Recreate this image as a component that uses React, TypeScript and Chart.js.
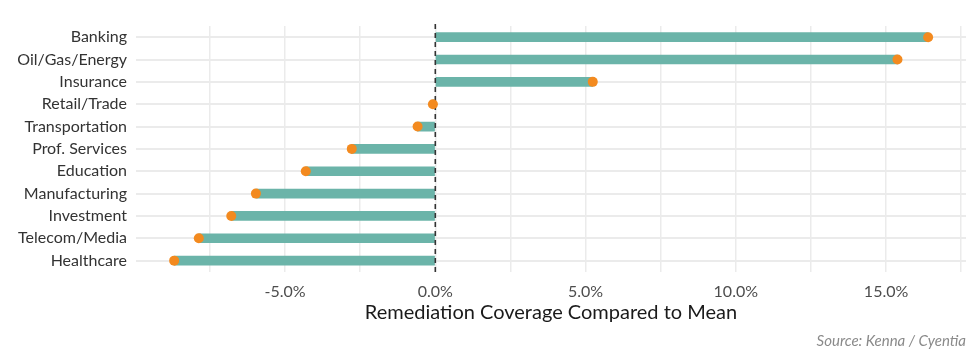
import React, { useEffect, useRef } from "react";
import { Chart, registerables } from "chart.js";

Chart.register(...registerables);

const categories = [
  "Banking",
  "Oil/Gas/Energy",
  "Insurance",
  "Retail/Trade",
  "Transportation",
  "Prof. Services",
  "Education",
  "Manufacturing",
  "Investment",
  "Telecom/Media",
  "Healthcare",
];
const coverageDiff = [16.4, 15.38, 5.24, -0.08, -0.59, -2.78, -4.31, -5.97, -6.79, -7.87, -8.69];
const gridValues = [-7.5, -5, -2.5, 0, 2.5, 5, 7.5, 10, 12.5, 15, 17.5];
const labeledTicks = [-5, 0, 5, 10, 15];
const xMin = -9.96;
const xMax = 17.66;

const FONT = "Lato, 'Noto Sans', sans-serif";

const zeroLine = {
  id: "zeroLine",
  afterDatasetDraw(chart: any, args: any) {
    if (args.meta.type !== "bar") return;
    const x = chart.scales.x.getPixelForValue(0);
    const { top, bottom } = chart.chartArea;
    const ctx = chart.ctx;
    ctx.save();
    ctx.strokeStyle = "#333333";
    ctx.lineWidth = 1.6;
    ctx.setLineDash([5, 4]);
    ctx.beginPath();
    ctx.moveTo(x, top - 2);
    ctx.lineTo(x, bottom + 3);
    ctx.stroke();
    ctx.restore();
  },
};

export default function App() {
  const ref = useRef<HTMLCanvasElement | null>(null);
  useEffect(() => {
    if (!ref.current) return;
    const chart = new Chart(ref.current, {
      type: "bar",
      data: {
        labels: categories,
        datasets: [
          {
            type: "line",
            data: coverageDiff,
            showLine: false,
            pointRadius: 5,
            pointHoverRadius: 5,
            pointBackgroundColor: "#f38a1f",
            pointBorderColor: "#f38a1f",
            pointBorderWidth: 0,
            order: 1,
          } as any,
          {
            type: "bar",
            data: coverageDiff,
            backgroundColor: "#6bb4a9",
            barThickness: 9,
            order: 2,
          },
        ],
      },
      options: {
        indexAxis: "y",
        animation: false,
        responsive: false,
        maintainAspectRatio: false,
        layout: { padding: { top: 26, left: 0, right: 9, bottom: 8 } },
        plugins: {
          legend: { display: false },
          tooltip: { enabled: false },
          subtitle: {
            display: true,
            text: "Source: Kenna / Cyentia",
            position: "bottom",
            align: "end",
            color: "#8a8a8a",
            font: { family: FONT, size: 15, style: "italic" },
            padding: { top: 0, bottom: 0 },
          },
        },
        scales: {
          x: {
            type: "linear",
            min: xMin,
            max: xMax,
            afterBuildTicks: (scale: any) => {
              scale.ticks = gridValues.map((v) => ({ value: v }));
            },
            grid: { color: "#ebebeb", lineWidth: 1.5, drawTicks: false },
            border: { display: false },
            ticks: {
              padding: 10,
              autoSkip: false,
              maxRotation: 0,
              color: "#4d4d4d",
              font: { family: FONT, size: 16 },
              callback: (v: any) => (labeledTicks.includes(Number(v)) ? Number(v).toFixed(1) + "%" : ""),
            },
            title: {
              display: true,
              text: "Remediation Coverage Compared to Mean",
              color: "#1a1a1a",
              font: { family: FONT, size: 20 },
              padding: { top: -10, bottom: 7 },
            },
          },
          y: {
            type: "category",
            offset: true,
            afterFit: (scale: any) => {
              scale.width = 136;
            },
            grid: { color: "#ebebeb", lineWidth: 2, drawTicks: false, offset: false },
            border: { display: false },
            ticks: {
              padding: 9,
              autoSkip: false,
              color: "#333333",
              font: { family: FONT, size: 16 },
            },
          },
        },
      },
      plugins: [zeroLine],
    });
    return () => chart.destroy();
  }, []);
  return (
    <div style={{ position: "absolute", left: 0, top: 0, width: 975, height: 358, background: "#fff" }}>
      <canvas ref={ref} width={975} height={358} style={{ width: 975, height: 358, display: "block" }} />
    </div>
  );
}
